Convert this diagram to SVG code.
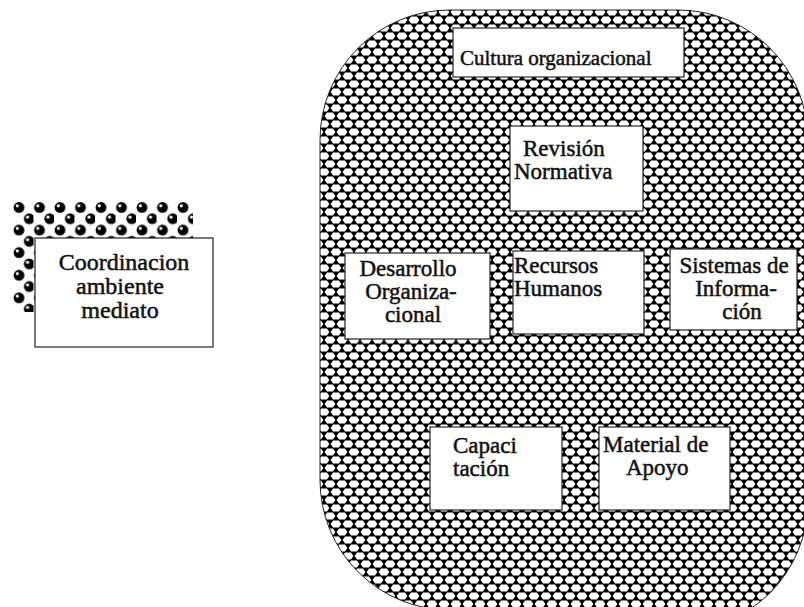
<svg xmlns="http://www.w3.org/2000/svg" width="804" height="607" viewBox="0 0 804 607">
  <style>
    .box { fill: #fff; stroke: #222; stroke-width: 1.2; }
    .lbl { font-family: "Liberation Serif", "Times New Roman", serif; fill: #111; stroke: #111; stroke-width: 0.5; }
    .s23 { font-size: 23px; }
    .s24 { font-size: 24px; }
    .s21 { font-size: 21px; }
    .mid { text-anchor: middle; }
  </style>
  <defs>
    <!-- honeycomb fill for the organisation shape -->
    <pattern id="hex" width="12" height="16" patternUnits="userSpaceOnUse">
      <rect width="12" height="16" fill="#000"/>
      <path fill="#fff" d="M0.6 4 L3.1 0.6 H8.9 L11.4 4 L8.9 7.4 H3.1Z M-5.4 12 L-2.9 8.6 H2.9 L5.4 12 L2.9 15.4 H-2.9Z M6.6 12 L9.1 8.6 H14.9 L17.4 12 L14.9 15.4 H9.1Z"/>
    </pattern>
    <!-- shaded ball fill for the backing card -->
    <pattern id="dots" width="20.5" height="22.6" patternUnits="userSpaceOnUse" patternTransform="translate(13 202)">
      <rect width="20.5" height="22.6" fill="#fff"/>
      <circle cx="6" cy="5.5" r="5.4" fill="#000"/>
      <circle cx="4.3" cy="3.8" r="1.6" fill="#fff"/>
      <circle cx="16.25" cy="16.8" r="5.4" fill="#000"/>
      <circle cx="14.55" cy="15.1" r="1.6" fill="#fff"/>
    </pattern>
  </defs>

  <rect width="804" height="607" fill="#fff"/>

  <!-- organisation outline -->
  <g id="organizacion">
    <path fill="url(#hex)" stroke="#222" stroke-width="1"
          d="M320 140 A130 130 0 0 1 450 10 H678 A130 130 0 0 1 808 140 V501 A130 130 0 0 1 678 631 L450 610 A130 130 0 0 1 320 480 Z"/>
  </g>

  <g id="connectors"/>

  <g id="coordinacion">
    <rect x="13" y="202" width="180" height="110" fill="url(#dots)"/>
    <rect class="box" x="35" y="238" width="178" height="109"/>
    <text class="lbl s24 mid" x="124" y="270">Coordinacion</text>
    <text class="lbl s24 mid" x="120" y="294">ambiente</text>
    <text class="lbl s24 mid" x="120" y="318">mediato</text>
  </g>

  <g id="cultura">
    <rect class="box" x="453" y="28" width="231" height="49"/>
    <text class="lbl s21" x="460" y="65">Cultura organizacional</text>
  </g>

  <g id="revision">
    <rect class="box" x="510" y="126" width="133" height="85"/>
    <text class="lbl s23" x="523" y="156">Revisión</text>
    <text class="lbl s23" x="514" y="179">Normativa</text>
  </g>

  <g id="desarrollo">
    <rect class="box" x="345" y="253" width="145" height="86"/>
    <text class="lbl s23 mid" x="408" y="276">Desarrollo</text>
    <text class="lbl s23 mid" x="411" y="299">Organiza-</text>
    <text class="lbl s23 mid" x="413" y="322">cional</text>
  </g>

  <g id="recursos">
    <rect class="box" x="513" y="251" width="131" height="83"/>
    <text class="lbl s23" x="514" y="273">Recursos</text>
    <text class="lbl s23" x="514" y="296">Humanos</text>
  </g>

  <g id="sistemas">
    <rect class="box" x="670" y="249" width="127" height="81"/>
    <text class="lbl s23 mid" x="734" y="273">Sistemas de</text>
    <text class="lbl s23 mid" x="736" y="296">Informa-</text>
    <text class="lbl s23 mid" x="742" y="319">ción</text>
  </g>

  <g id="capacitacion">
    <rect class="box" x="430" y="427" width="132" height="83"/>
    <text class="lbl s23" x="453" y="453">Capaci</text>
    <text class="lbl s23" x="453" y="476">tación</text>
  </g>

  <g id="material">
    <rect class="box" x="599" y="427" width="131" height="83"/>
    <text class="lbl s23" x="603" y="452">Material de</text>
    <text class="lbl s23" x="626" y="475">Apoyo</text>
  </g>
</svg>
